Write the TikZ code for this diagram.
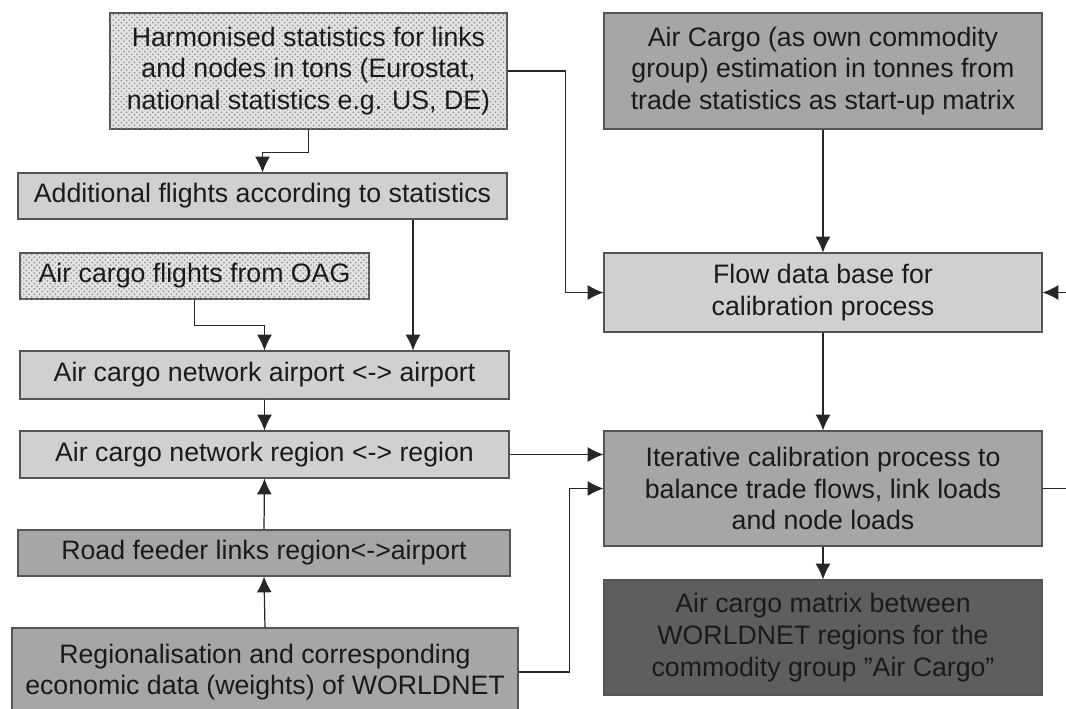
\documentclass[tikz,border=0pt]{standalone}
\usepackage{fontspec}
\setmainfont{Liberation Sans}
\usepackage{xcolor}
\usetikzlibrary{arrows.meta,patterns}

\definecolor{boxline}{HTML}{555555}
\definecolor{lightfill}{HTML}{D0D0D0}
\definecolor{midfill}{HTML}{A6A6A6}
\definecolor{darkfill}{HTML}{5E5E5E}
\definecolor{textgray}{HTML}{1A1A1A}

\begin{document}
\begin{tikzpicture}[
    every node/.style = {shape=rectangle, draw=boxline, line width=0.6pt,
      align=center, inner sep=0pt, text=textgray,
      font=\fontsize{15.2}{18}\selectfont},
    lightbox/.style = {fill=lightfill},
    midbox/.style = {fill=midfill},
    darkbox/.style = {fill=darkfill},
    dotbox/.style = {fill=gray!22,
      postaction={pattern=crosshatch dots, pattern color=gray!90}},
    arr/.style = {draw=black!85, line width=0.7pt,
      -{Latex[length=9pt,width=8.5pt]}}]
    \useasboundingbox (0,0) rectangle (21.32,-14.16);
    \node[dotbox, minimum width=7.94cm, minimum height=2.32cm] (harm) at (6.17,-1.42)
        {Harmonised statistics for links\\and nodes in tons (Eurostat,\\national statistics e.g. US, DE)};
    \node[midbox, minimum width=8.76cm, minimum height=2.32cm] (estim) at (16.46,-1.42)
        {Air Cargo (as own commodity\\group) estimation in tonnes from\\trade statistics as start-up matrix};
    \node[lightbox, minimum width=9.78cm, minimum height=0.92cm] (addfl) at (5.25,-3.92)
        {Additional flights according to statistics};
    \node[dotbox, minimum width=6.98cm, minimum height=0.92cm] (oag) at (3.89,-5.52)
        {Air cargo flights from OAG};
    \node[lightbox, minimum width=9.78cm, minimum height=0.96cm] (netair) at (5.29,-7.5)
        {Air cargo network airport <-> airport};
    \node[lightbox, minimum width=9.78cm, minimum height=0.94cm] (netreg) at (5.29,-9.09)
        {Air cargo network region <-> region};
    \node[midbox, minimum width=9.84cm, minimum height=0.92cm] (feeder) at (5.28,-11.06)
        {Road feeder links region<->airport};
    \node[midbox, minimum width=10.12cm, minimum height=1.76cm] (regio) at (5.3,-13.44)
        {Regionalisation and corresponding\\economic data (weights) of WORLDNET};
    \node[lightbox, minimum width=8.76cm, minimum height=1.58cm] (flowdb) at (16.46,-5.85)
        {Flow data base for\\calibration process};
    \node[midbox, minimum width=8.76cm, minimum height=2.3cm] (calib) at (16.46,-9.77)
        {Iterative calibration process to\\balance trade flows, link loads\\and node loads};
    \node[darkbox, minimum width=8.76cm, minimum height=2.3cm] (matrix) at (16.46,-12.75)
        {Air cargo matrix between\\WORLDNET regions for the\\commodity group \symbol{34}Air Cargo\symbol{34}};
    \coordinate (outcal) at (21.4,-9.77);
    \coordinate (outflow) at (21.4,-5.85);

    \draw[arr] (harm.south) -- ++(0,-0.46) -| (addfl.north);
    \draw[arr] (harm.east) -- ++(1.16,0) |- (flowdb.west);
    \draw[arr] (estim.south) -- (flowdb.north);
    \draw[arr] ([xshift=3.01cm]addfl.south) -- ([xshift=3.01cm]addfl.south |- netair.north);
    \draw[arr] (oag.south) -- ++(0,-0.52) -| (netair.north);
    \draw[arr] (netair.south) -- (netreg.north);
    \draw[arr] (netreg.east) -- (netreg.east -| calib.west);
    \draw[arr] (feeder.north) -- (netreg.south);
    \draw[arr] (regio.north) -- (feeder.south);
    \draw[arr] (regio.east) -- ++(1.02,0) |- (calib.west);
    \draw[arr] (flowdb.south) -- (calib.north);
    \draw[arr] (calib.south) -- (matrix.north);
    \draw[draw=black!85, line width=0.7pt] (calib.east) -- (outcal);
    \draw[arr] (outflow) -- (flowdb.east);
\end{tikzpicture}
\end{document}
